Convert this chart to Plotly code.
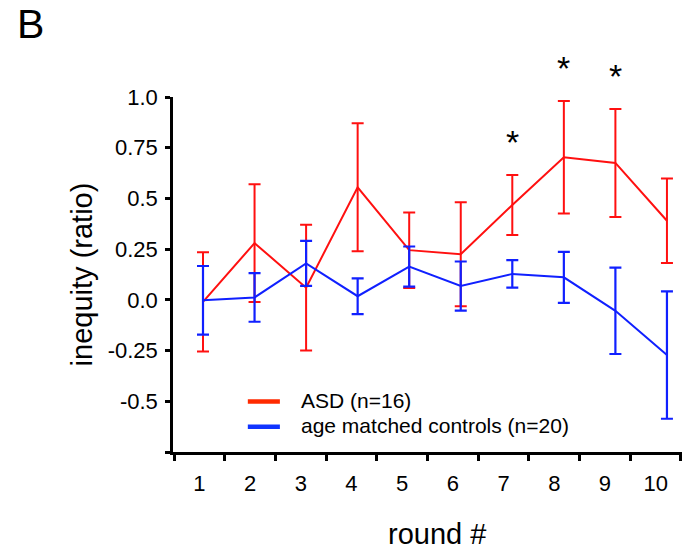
import plotly.graph_objects as go

# Rounds of the game
rounds = [1, 2, 3, 4, 5, 6, 7, 8, 9, 10]

# ASD group (n=16): mean inequity ratio and error
asd_mean = [-0.01, 0.28, 0.06, 0.555, 0.245, 0.225, 0.468, 0.703, 0.675, 0.39]
asd_err = [0.245, 0.29, 0.31, 0.315, 0.186, 0.256, 0.148, 0.277, 0.266, 0.208]

# Age matched controls (n=20)
ctl_mean = [-0.002, 0.012, 0.18, 0.018, 0.164, 0.068, 0.128, 0.111, -0.054, -0.272]
ctl_err = [0.169, 0.12, 0.111, 0.088, 0.099, 0.121, 0.068, 0.126, 0.213, 0.314]

# Rounds with a significant group difference
sig_rounds = [7, 8, 9]

# Legend labels
series_names = ["ASD (n=16)", "age matched controls (n=20)"]

y_tickvals = [-0.75, -0.5, -0.25, 0.0, 0.25, 0.5, 0.75, 1.0]
y_ticktext = ["", "-0.5", "-0.25", "0.0", "0.25", "0.5", "0.75", "1.0"]

RED = "#ff1010"
BLUE = "#1020ff"
KEY_COLORS = ["#ff2a00", "#1034ff"]
FONT = "Arial, Liberation Sans, sans-serif"

fig = go.Figure()

fig.add_trace(go.Scatter(
    x=rounds, y=asd_mean, mode="lines", name=series_names[0],
    showlegend=False,
    line=dict(color=RED, width=2),
    error_y=dict(type="data", array=asd_err, visible=True,
                 color=RED, thickness=2, width=6),
))
fig.add_trace(go.Scatter(
    x=rounds, y=ctl_mean, mode="lines", name=series_names[1],
    showlegend=False,
    line=dict(color=BLUE, width=2),
    error_y=dict(type="data", array=ctl_err, visible=True,
                 color=BLUE, thickness=2.2, width=6),
))

# significance stars above the ASD error bars
for r in sig_rounds:
    i = rounds.index(r)
    fig.add_annotation(x=r, y=asd_mean[i] + asd_err[i], text="*",
                       showarrow=False, yanchor="bottom", yshift=12,
                       font=dict(size=34, color="black", family=FONT))

# panel letter
fig.add_annotation(xref="paper", yref="paper", x=-0.31, y=1.206,
                   xanchor="left", yanchor="middle", text="B", showarrow=False,
                   font=dict(size=41, color="black", family=FONT))

# x-axis title
fig.add_annotation(xref="paper", yref="paper", x=0.518, y=-0.232,
                   xanchor="center", yanchor="middle", text="round #",
                   showarrow=False,
                   font=dict(size=29, color="black", family=FONT))

# legend drawn inside the plot area: thick key line + label per series
key_x0, key_x1, text_x = 0.147, 0.210, 0.247
key_rows = [0.1424, 0.0713]
for name, color, ky in zip(series_names, KEY_COLORS, key_rows):
    fig.add_shape(type="line", xref="paper", yref="paper",
                  x0=key_x0, x1=key_x1, y0=ky, y1=ky,
                  line=dict(color=color, width=4.5))
    fig.add_annotation(xref="paper", yref="paper", x=text_x, y=ky + 0.004,
                       xanchor="left", yanchor="middle", text=name,
                       showarrow=False,
                       font=dict(size=21, color="black", family=FONT))

# category boundaries and centres along x
x_start = 0.4374
x_step = 0.98351
x_label_pos = [x_start + x_step * (k + 0.5) for k in range(len(rounds))]

fig.update_layout(
    width=688, height=552,
    margin=dict(l=173, r=6, t=97, b=100),
    paper_bgcolor="white", plot_bgcolor="white",
    font=dict(family=FONT, color="black"),
    showlegend=False,
    xaxis=dict(
        range=[0.418, 10.292], showgrid=False, zeroline=False,
        showline=True, linecolor="black", linewidth=2.5,
        tickmode="array", tickvals=x_label_pos,
        ticktext=[str(r) for r in rounds], ticks="",
        ticklabelstandoff=10,
        tickfont=dict(size=22, family=FONT, color="black"),
        minor=dict(tickmode="linear", tick0=x_start, dtick=x_step,
                   ticks="outside", ticklen=6, tickwidth=2.5,
                   tickcolor="black", showgrid=False),
    ),
    yaxis=dict(
        range=[-0.75, 1.0], showgrid=False, zeroline=False,
        showline=True, linecolor="black", linewidth=2.5,
        tickmode="array", tickvals=y_tickvals, ticktext=y_ticktext,
        ticks="outside", ticklen=5, tickwidth=2.5, tickcolor="black",
        ticklabelstandoff=3,
        tickfont=dict(size=22, family=FONT, color="black"),
        title=dict(text="inequity (ratio)", standoff=7,
                   font=dict(size=29, family=FONT, color="black")),
    ),
)

fig.write_html("out.html")
